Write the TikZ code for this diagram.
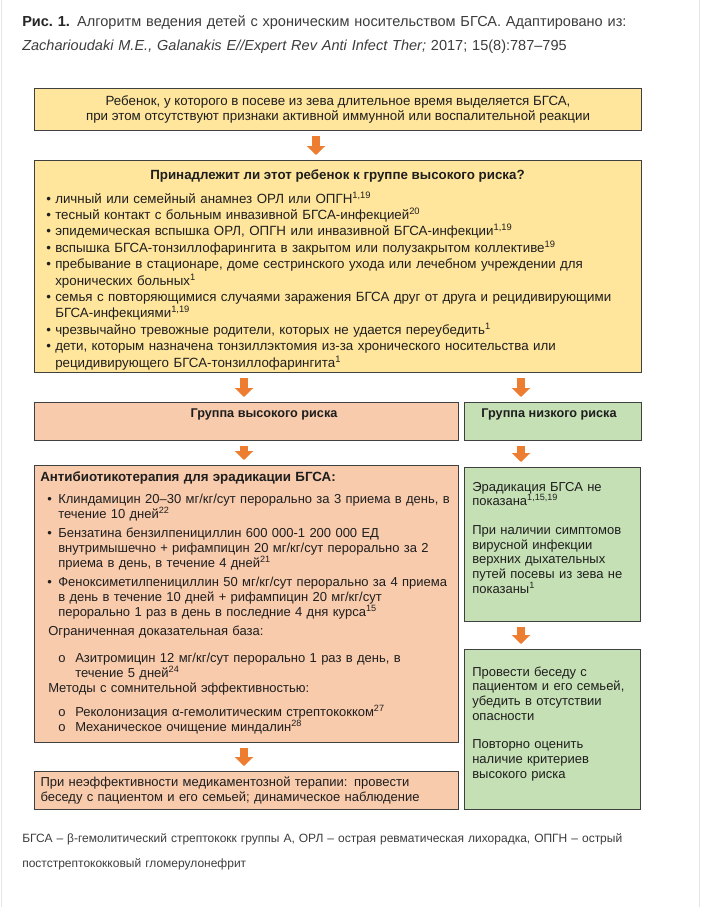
\documentclass[tikz,border=0pt]{standalone}
\usepackage{fontspec}
\setmainfont{Liberation Sans}
\usepackage{xcolor}
\usetikzlibrary{arrows.meta,positioning,calc}

\definecolor{boxyellow}{HTML}{FFE69C}
\definecolor{boxpeach}{HTML}{F8CBAD}
\definecolor{boxgreen}{HTML}{C6E0B5}
\definecolor{arroworange}{HTML}{ED7D31}
\definecolor{boxline}{HTML}{404040}
\definecolor{textdark}{HTML}{1E1E1E}
\definecolor{captext}{HTML}{3C3C3C}

% bullet lines in the question box and in the therapy box
\newcommand{\bitem}[1]{\hangindent=6.75pt\hangafter=1\noindent\makebox[6.75pt][l]{•}#1\par}
\newcommand{\titem}[2][3pt]{\par\vspace{#1}\hangindent=13.5pt\hangafter=1\noindent\hspace*{5.25pt}\makebox[8.25pt][l]{•}#2\par}
\newcommand{\oitem}[2][0pt]{\par\vspace{#1}\hangindent=26.25pt\hangafter=1\noindent\hspace*{13.5pt}\makebox[12.75pt][l]{o}#2\par}
\newcommand{\subhead}[2][0pt]{\par\vspace{#1}\noindent\hspace*{6pt}#2\par}

\begin{document}
\begin{tikzpicture}[
    x=0.75pt, y=-0.75pt,
    box/.style={draw=boxline, line width=0.75pt, inner sep=0pt, anchor=north west},
    yellowbox/.style={box, fill=boxyellow},
    peachbox/.style={box, fill=boxpeach},
    greenbox/.style={box, fill=boxgreen},
    txt/.style={inner sep=0pt, align=left, text=textdark, anchor=base west},
    head/.style={inner sep=0pt, text=textdark, font=\fontsize{9.5}{11}\selectfont\bfseries},
    blockarr/.style={-{Triangle[width=13.5pt,length=6.75pt]}, line width=6pt,
        draw=arroworange, shorten <=3.75pt, shorten >=3.75pt},
]
    \path[use as bounding box] (0,0) rectangle (702,907);
    \draw[black!10] (1,-5) rectangle (699,912);

    % caption
    \node[txt, text=captext, text width=510pt, font=\fontsize{10.9}{18}\selectfont] (cap) at (22,26)
        {{\bfseries\color{black!85}Рис.~1.} Алгоритм ведения детей с хроническим носительством БГСА. Адаптировано из:\\
         \textit{Zacharioudaki M.E., Galanakis E//Expert Rev Anti Infect Ther;} 2017; 15(8):787–795};

    % flow boxes
    \node[yellowbox, minimum width=455.25pt, minimum height=31.5pt, align=center,
        text=textdark, font=\fontsize{10}{11.25}\selectfont] (child) at (34,88)
        {Ребенок, у которого в посеве из зева длительное время выделяется БГСА,\\
         при этом отсутствуют признаки активной иммунной или воспалительной реакции};

    \node[yellowbox, minimum width=455.25pt, minimum height=159pt] (risk) at (34,160) {};
    \node[head, font=\fontsize{10}{12}\selectfont\bfseries, anchor=base] (riskq) at (337.5,179)
        {Принадлежит ли этот ребенок к группе высокого риска?};
    \node[txt, text width=445pt, font=\fontsize{10}{12.3}\selectfont] (risklist) at (46,203)
        {\bitem{личный или семейный анамнез ОРЛ или ОПГН\textsuperscript{1,19}}
         \bitem{тесный контакт с больным инвазивной БГСА-инфекцией\textsuperscript{20}}
         \bitem{эпидемическая вспышка ОРЛ, ОПГН или инвазивной БГСА-инфекции\textsuperscript{1,19}}
         \bitem{вспышка БГСА-тонзиллофарингита в закрытом или полузакрытом коллективе\textsuperscript{19}}
         \bitem{пребывание в стационаре, доме сестринского ухода или лечебном учреждении для\newline
                хронических больных\textsuperscript{1}}
         \bitem{семья с повторяющимися случаями заражения БГСА друг от друга и рецидивирующими\newline
                БГСА-инфекциями\textsuperscript{1,19}}
         \bitem{чрезвычайно тревожные родители, которых не удается переубедить\textsuperscript{1}}
         \bitem{дети, которым назначена тонзиллэктомия из-за хронического носительства или\newline
                рецидивирующего БГСА-тонзиллофарингита\textsuperscript{1}}};

    \node[peachbox, minimum width=318pt, minimum height=28.5pt] (high) at (34,402) {};
    \node[head] (hight) at (264,414) {Группа высокого риска};
    \node[greenbox, minimum width=132.75pt, minimum height=28.5pt] (low) at (464,402) {};
    \node[head] (lowt) at (549,414) {Группа низкого риска};

    \node[peachbox, minimum width=318pt, minimum height=207.75pt] (treat) at (34,465) {};
    \node[txt, text width=330pt, font=\fontsize{9.75}{11.25}\selectfont] (treatt) at (40,481)
        {{\bfseries\fontsize{10}{11.25}\selectfont Антибиотикотерапия для эрадикации БГСА:}
         \titem[5.25pt]{Клиндамицин 20–30 мг/кг/сут перорально за 3 приема в день, в\newline
                течение 10 дней\textsuperscript{22}}
         \titem{Бензатина бензилпенициллин 600 000-1 200 000 ЕД\newline
                внутримышечно + рифампицин 20 мг/кг/сут перорально за 2\newline
                приема в день, в течение 4 дней\textsuperscript{21}}
         \titem{Феноксиметилпенициллин 50 мг/кг/сут перорально за 4 приема\newline
                в день в течение 10 дней + рифампицин 20 мг/кг/сут\newline
                перорально 1 раз в день в последние 4 дня курса\textsuperscript{15}}
         \subhead[3pt]{Ограниченная доказательная база:}
         \oitem[9pt]{Азитромицин 12 мг/кг/сут перорально 1 раз в день, в\newline
                течение 5 дней\textsuperscript{24}}
         \subhead{Методы с сомнительной эффективностью:}
         \oitem[6.75pt]{Реколонизация α-гемолитическим стрептококком\textsuperscript{27}}
         \oitem{Механическое очищение миндалин\textsuperscript{28}}};

    \node[greenbox, minimum width=132pt, minimum height=115.5pt] (nored) at (464,467) {};
    \node[txt, text width=150pt, font=\fontsize{9.75}{11}\selectfont] (noredt) at (472,491)
        {Эрадикация БГСА не\\
         показана\textsuperscript{1,15,19}\\[10.5pt]
         При наличии симптомов\\
         вирусной инфекции\\
         верхних дыхательных\\
         путей посевы из зева не\\
         показаны\textsuperscript{1}};

    \node[greenbox, minimum width=132pt, minimum height=120pt] (talk) at (464,649) {};
    \node[txt, text width=150pt, font=\fontsize{9.75}{11}\selectfont] (talkt) at (472,676)
        {Провести беседу с\\
         пациентом и его семьей,\\
         убедить в отсутствии\\
         опасности\\[10.5pt]
         Повторно оценить\\
         наличие критериев\\
         высокого риска};

    \node[peachbox, minimum height=28.5pt, inner xsep=4.5pt, text width=309pt, align=left,
        text=textdark, font=\fontsize{9.75}{11.25}\selectfont] (final) at (34,771)
        {При неэффективности медикаментозной терапии: провести\\
         беседу с пациентом и его семьей; динамическое наблюдение};

    % block arrows
    \coordinate (midx) at (316,0);
    \coordinate (leftx) at (244,0);
    \coordinate (rightx) at (521,0);
    \draw[blockarr] (child.south -| midx) -- (risk.north -| midx);
    \draw[blockarr] (risk.south -| leftx) -- (high.north -| leftx);
    \draw[blockarr] (risk.south -| rightx) -- (low.north -| rightx);
    \draw[blockarr] (high.south -| leftx) -- (treat.north -| leftx);
    \draw[blockarr] (low.south -| rightx) -- (nored.north -| rightx);
    \draw[blockarr] (nored.south -| rightx) -- (talk.north -| rightx);
    \draw[blockarr] (treat.south -| leftx) -- (final.north -| leftx);

    % legend
    \node[txt, text=captext, text width=510pt, font=\fontsize{9}{18.75}\selectfont] (legend) at (22,842)
        {БГСА – β-гемолитический стрептококк группы А, ОРЛ – острая ревматическая лихорадка, ОПГН – острый\\
         постстрептококковый гломерулонефрит};
\end{tikzpicture}
\end{document}
